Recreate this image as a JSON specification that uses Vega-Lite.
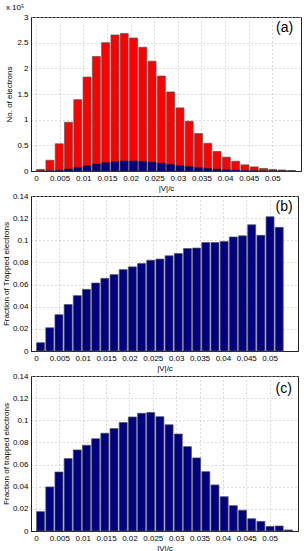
{
  "$schema": "https://vega.github.io/schema/vega-lite/v6.json",
  "padding": {"left": 1, "top": 3, "right": 7, "bottom": 2},
  "spacing": 25,
  "bounds": "flush",
  "datasets": {
    "bins": [
      {"v": 0.00098, "total": 3000, "trapped": 20, "frac_b": 0.0075, "frac_c": 0.0175},
      {"v": 0.00295, "total": 21000, "trapped": 440, "frac_b": 0.021, "frac_c": 0.0398},
      {"v": 0.00491, "total": 53000, "trapped": 1750, "frac_b": 0.0328, "frac_c": 0.0533},
      {"v": 0.00688, "total": 95000, "trapped": 4000, "frac_b": 0.042, "frac_c": 0.0654},
      {"v": 0.00884, "total": 139000, "trapped": 6950, "frac_b": 0.05, "frac_c": 0.0732},
      {"v": 0.0108, "total": 183000, "trapped": 10200, "frac_b": 0.0557, "frac_c": 0.0774},
      {"v": 0.01277, "total": 223000, "trapped": 13700, "frac_b": 0.0614, "frac_c": 0.0834},
      {"v": 0.01473, "total": 250000, "trapped": 16400, "frac_b": 0.0656, "frac_c": 0.0883},
      {"v": 0.0167, "total": 265000, "trapped": 18300, "frac_b": 0.069, "frac_c": 0.0925},
      {"v": 0.01866, "total": 268000, "trapped": 19700, "frac_b": 0.0735, "frac_c": 0.098},
      {"v": 0.02063, "total": 259000, "trapped": 19700, "frac_b": 0.076, "frac_c": 0.103},
      {"v": 0.02259, "total": 241000, "trapped": 19000, "frac_b": 0.079, "frac_c": 0.1063},
      {"v": 0.02455, "total": 214000, "trapped": 17500, "frac_b": 0.082, "frac_c": 0.107},
      {"v": 0.02652, "total": 185000, "trapped": 15400, "frac_b": 0.083, "frac_c": 0.1033},
      {"v": 0.02848, "total": 154000, "trapped": 13200, "frac_b": 0.086, "frac_c": 0.096},
      {"v": 0.03045, "total": 123000, "trapped": 10800, "frac_b": 0.088, "frac_c": 0.0876},
      {"v": 0.03241, "total": 97000, "trapped": 9000, "frac_b": 0.0925, "frac_c": 0.0762},
      {"v": 0.03438, "total": 73000, "trapped": 6800, "frac_b": 0.093, "frac_c": 0.066},
      {"v": 0.03634, "total": 54000, "trapped": 5300, "frac_b": 0.098, "frac_c": 0.0536},
      {"v": 0.0383, "total": 38000, "trapped": 3700, "frac_b": 0.098, "frac_c": 0.0416},
      {"v": 0.04027, "total": 27000, "trapped": 2700, "frac_b": 0.099, "frac_c": 0.031},
      {"v": 0.04223, "total": 19000, "trapped": 1960, "frac_b": 0.103, "frac_c": 0.0229},
      {"v": 0.0442, "total": 12000, "trapped": 1250, "frac_b": 0.104, "frac_c": 0.0187},
      {"v": 0.04616, "total": 8000, "trapped": 900, "frac_b": 0.114, "frac_c": 0.0111},
      {"v": 0.04813, "total": 5000, "trapped": 520, "frac_b": 0.1045, "frac_c": 0.0087},
      {"v": 0.05009, "total": 3000, "trapped": 360, "frac_b": 0.1213, "frac_c": 0.0042},
      {"v": 0.05205, "total": 2000, "trapped": 220, "frac_b": 0.1117, "frac_c": 0.0045},
      {"v": 0.05402, "total": 1000, "trapped": 0, "frac_b": null, "frac_c": 0.001}
    ]
  },
  "vconcat": [
    {
      "width": 270,
      "height": 154,
      "title": {"text": "x 10⁵", "anchor": "start", "fontSize": 8, "fontWeight": "normal", "offset": 1, "color": "#000"},
      "layer": [
        {
          "data": {"name": "bins"},
          "mark": {"type": "bar", "width": 8, "color": "#ff0000", "stroke": "#555", "strokeWidth": 0.7},
          "encoding": {
            "x": {"field": "v", "type": "quantitative", "scale": {"domain": [0, 0.055], "nice": false},
              "axis": {"title": "|V|/c", "values": [0, 0.005, 0.01, 0.015, 0.02, 0.025, 0.03, 0.035, 0.04, 0.045, 0.05], "format": "~g", "titlePadding": 2}},
            "y": {"field": "total", "type": "quantitative", "scale": {"domain": [0, 300000], "nice": false},
              "axis": {"title": "No. of electrons", "values": [0, 50000, 100000, 150000, 200000, 250000, 300000], "labelExpr": "format(datum.value / 100000, '~g')", "titlePadding": 3}}
          }
        },
        {
          "data": {"name": "bins"},
          "mark": {"type": "bar", "width": 8, "color": "#000080", "stroke": "#333", "strokeWidth": 0.5},
          "encoding": {
            "x": {"field": "v", "type": "quantitative", "scale": {"domain": [0, 0.055], "nice": false},
              "axis": {"title": "|V|/c", "values": [0, 0.005, 0.01, 0.015, 0.02, 0.025, 0.03, 0.035, 0.04, 0.045, 0.05], "format": "~g", "titlePadding": 2}},
            "y": {"field": "trapped", "type": "quantitative", "scale": {"domain": [0, 300000], "nice": false},
              "axis": {"title": "No. of electrons", "values": [0, 50000, 100000, 150000, 200000, 250000, 300000], "labelExpr": "format(datum.value / 100000, '~g')", "titlePadding": 3}}
          }
        },
        {
          "data": {"values": [{"label": "(a)"}]},
          "mark": {"type": "text", "fontSize": 14, "align": "center", "baseline": "middle", "color": "#000"},
          "encoding": {
            "text": {"field": "label"},
            "x": {"datum": 0.0526, "type": "quantitative", "scale": {"domain": [0, 0.055], "nice": false},
              "axis": {"title": "|V|/c", "values": [0, 0.005, 0.01, 0.015, 0.02, 0.025, 0.03, 0.035, 0.04, 0.045, 0.05], "format": "~g", "titlePadding": 2}},
            "y": {"datum": 279000, "type": "quantitative", "scale": {"domain": [0, 300000], "nice": false},
              "axis": {"title": "No. of electrons", "values": [0, 50000, 100000, 150000, 200000, 250000, 300000], "labelExpr": "format(datum.value / 100000, '~g')", "titlePadding": 3}}
          }
        }
      ]
    },
    {
      "width": 267,
      "height": 155,
      "layer": [
        {
          "data": {"name": "bins"},
          "transform": [{"filter": "datum.frac_b != null"}],
          "mark": {"type": "bar", "width": 8, "color": "#000080", "stroke": "#555", "strokeWidth": 0.7},
          "encoding": {
            "x": {"field": "v", "type": "quantitative", "scale": {"domain": [0, 0.055], "nice": false},
              "axis": {"title": "|V|/c", "values": [0, 0.005, 0.01, 0.015, 0.02, 0.025, 0.03, 0.035, 0.04, 0.045, 0.05], "format": "~g", "titlePadding": 2}},
            "y": {"field": "frac_b", "type": "quantitative", "scale": {"domain": [0, 0.14], "nice": false},
              "axis": {"title": "Fraction of Trapped electrons", "values": [0, 0.02, 0.04, 0.06, 0.08, 0.1, 0.12, 0.14], "format": "~g", "titlePadding": 2}}
          }
        },
        {
          "data": {"values": [{"label": "(b)"}]},
          "mark": {"type": "text", "fontSize": 14, "align": "center", "baseline": "middle", "color": "#000"},
          "encoding": {
            "text": {"field": "label"},
            "x": {"datum": 0.0531, "type": "quantitative", "scale": {"domain": [0, 0.055], "nice": false},
              "axis": {"title": "|V|/c", "values": [0, 0.005, 0.01, 0.015, 0.02, 0.025, 0.03, 0.035, 0.04, 0.045, 0.05], "format": "~g", "titlePadding": 2}},
            "y": {"datum": 0.13, "type": "quantitative", "scale": {"domain": [0, 0.14], "nice": false},
              "axis": {"title": "Fraction of Trapped electrons", "values": [0, 0.02, 0.04, 0.06, 0.08, 0.1, 0.12, 0.14], "format": "~g", "titlePadding": 2}}
          }
        }
      ]
    },
    {
      "width": 267,
      "height": 155,
      "layer": [
        {
          "data": {"name": "bins"},
          "mark": {"type": "bar", "width": 8, "color": "#000080", "stroke": "#555", "strokeWidth": 0.7},
          "encoding": {
            "x": {"field": "v", "type": "quantitative", "scale": {"domain": [0, 0.055], "nice": false},
              "axis": {"title": "|V|/c", "values": [0, 0.005, 0.01, 0.015, 0.02, 0.025, 0.03, 0.035, 0.04, 0.045, 0.05], "format": "~g", "titlePadding": 2}},
            "y": {"field": "frac_c", "type": "quantitative", "scale": {"domain": [0, 0.14], "nice": false},
              "axis": {"title": "Fraction of trapped electrons", "values": [0, 0.02, 0.04, 0.06, 0.08, 0.1, 0.12, 0.14], "format": "~g", "titlePadding": 2}}
          }
        },
        {
          "data": {"values": [{"label": "(c)"}]},
          "mark": {"type": "text", "fontSize": 14, "align": "center", "baseline": "middle", "color": "#000"},
          "encoding": {
            "text": {"field": "label"},
            "x": {"datum": 0.053, "type": "quantitative", "scale": {"domain": [0, 0.055], "nice": false},
              "axis": {"title": "|V|/c", "values": [0, 0.005, 0.01, 0.015, 0.02, 0.025, 0.03, 0.035, 0.04, 0.045, 0.05], "format": "~g", "titlePadding": 2}},
            "y": {"datum": 0.128, "type": "quantitative", "scale": {"domain": [0, 0.14], "nice": false},
              "axis": {"title": "Fraction of trapped electrons", "values": [0, 0.02, 0.04, 0.06, 0.08, 0.1, 0.12, 0.14], "format": "~g", "titlePadding": 2}}
          }
        }
      ]
    }
  ],
  "config": {
    "font": "Liberation Sans",
    "view": {"stroke": "#222", "strokeWidth": 1},
    "axis": {
      "labelFontSize": 8,
      "labelColor": "#000",
      "titleFontSize": 8,
      "titleFontWeight": "normal",
      "titleColor": "#000",
      "ticks": false,
      "labelPadding": 3,
      "labelOverlap": false,
      "labelBound": false,
      "labelFlush": false,
      "domainColor": "#222",
      "grid": true,
      "gridColor": "#b5b5b5",
      "gridDash": [1, 3],
      "gridWidth": 1
    }
  }
}
